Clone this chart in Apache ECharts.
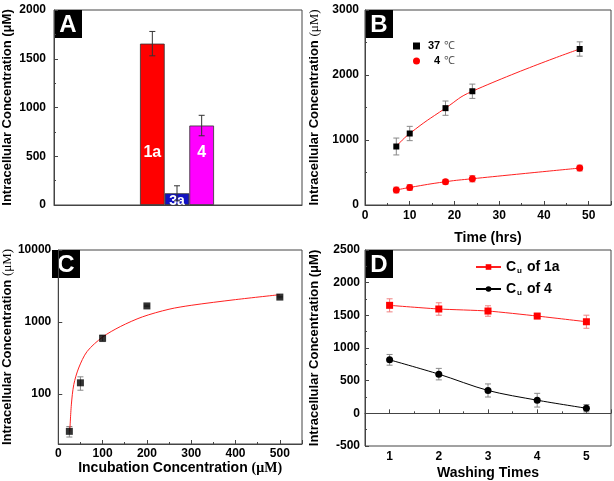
<!DOCTYPE html>
<html><head><meta charset="utf-8">
<script src="https://cdn.jsdelivr.net/npm/echarts@6/dist/echarts.min.js"></script>
<style>html,body{margin:0;padding:0;background:#fff}#c{width:614px;height:481px}</style>
</head><body><div id="c"></div>
<script>
// ---- data ----
const aCategories = ['1a', '3a', '4'];
const aValues = [1655, 120, 815];
const aErrors = [125, 77, 105];

const bTimes = [7, 10, 18, 24, 48];
const b37 = [900, 1100, 1490, 1750, 2400];
const b37Err = [130, 110, 110, 110, 110];
const b4 = [230, 270, 358, 404, 568];
const b4Err = [45, 45, 35, 50, 45];

const cIncub = [25, 50, 100, 200, 500];
const cIntra = [30, 142, 592, 1667, 2213];
const cErr = [5, 30, 60, 40, 50];
const cFitX = [26, 29.5, 35, 46, 65, 100, 140, 190, 250, 300, 400, 500];
const cFitY = [30, 70, 134, 228, 387, 615, 860, 1175, 1500, 1700, 2040, 2390];

const dWash = [1, 2, 3, 4, 5];
const d1a = [1653, 1597, 1566, 1489, 1402];
const d1aErr = [100, 95, 80, 40, 100];
const d4 = [819, 600, 350, 201, 78];
const d4Err = [82, 88, 100, 105, 56];

const seriesNames = { b37: '37 ℃', b4: '4 ℃', d1a: 'Cu of 1a', d4: 'Cu of 4' };
const panelLetters = ['A', 'B', 'C', 'D'];

// ---- styles ----
const F = 'Liberation Sans, Arial, sans-serif';
const SERIF = 'Liberation Serif, Times New Roman, serif';
const aColors = ['#ff0000', '#1212c4', '#ff00ff'];
const aLabelDist = [44, -3, 44];
const aLabelSize = [16, 14, 16];
const AX = '#444';

const zip = (xs, ys, es) => xs.map((x, i) => es ? [x, ys[i], es[i]] : [x, ys[i]]);

function errorBar(color, cap) {
  return function (params, api) {
    const x = api.value(0), y = api.value(1), e = api.value(2);
    const hi = api.coord([x, y + e]);
    const lo = api.coord([x, y - e]);
    const style = { stroke: color, lineWidth: 1 };
    return {
      type: 'group', children: [
        { type: 'line', shape: { x1: hi[0], y1: hi[1], x2: lo[0], y2: lo[1] }, style },
        { type: 'line', shape: { x1: hi[0] - cap, y1: hi[1], x2: hi[0] + cap, y2: hi[1] }, style },
        { type: 'line', shape: { x1: lo[0] - cap, y1: lo[1], x2: lo[0] + cap, y2: lo[1] }, style }
      ]
    };
  };
}

const plain = v => String(v);
const tickLabel = { color: '#000', fontFamily: F, fontWeight: 'bold', fontSize: 12, formatter: plain };
function valAxis(extra) {
  return Object.assign({
    type: 'value',
    axisLine: { show: true, lineStyle: { color: AX, width: 1 } },
    axisTick: { show: true, inside: true, length: 4, lineStyle: { color: AX } },
    minorTick: { show: true, splitNumber: 2, length: 2, lineStyle: { color: AX } },
    splitLine: { show: false },
    minorSplitLine: { show: false },
    axisLabel: Object.assign({}, tickLabel, { margin: 6 })
  }, extra);
}
const yNameBold = { fontFamily: F, fontWeight: 'bold', fontSize: 13, color: '#000' };
const yNameRich = {
  fontFamily: F, fontWeight: 'bold', fontSize: 13, color: '#000',
  rich: {
    a: { fontFamily: F, fontWeight: 'bold', fontSize: 13, color: '#000' },
    b: { fontFamily: SERIF, fontWeight: 'normal', fontSize: 13, color: '#000' }
  }
};
const xName = { fontFamily: F, fontWeight: 'bold', fontSize: 14, color: '#000' };

const grids = [
  { left: 54, top: 10, width: 248, height: 195 },
  { left: 140, top: 10, width: 74, height: 195 },
  { left: 365, top: 10, width: 246, height: 195 },
  { left: 52, top: 250, width: 250, height: 194 },
  { left: 365, top: 250, width: 246, height: 196 }
].map((g, i) => Object.assign(g, i === 1 ? { show: false } : { show: true, borderColor: AX, borderWidth: 1 }));

const letterBoxes = [[54, 10], [365, 10], [52, 250], [365, 250]];

const option = {
  animation: false,
  backgroundColor: '#fff',
  grid: grids,
  xAxis: [
    { type: 'value', gridIndex: 0, min: 0, max: 1, axisLabel: { show: false }, axisTick: { show: false }, splitLine: { show: false }, axisLine: { lineStyle: { color: AX } } },
    { type: 'category', gridIndex: 1, data: aCategories, show: false },
    valAxis({ gridIndex: 2, min: 0, max: 55, interval: 10, axisLabel: Object.assign({}, tickLabel, { margin: 5, showMaxLabel: false }),
      name: 'Time (hrs)', nameLocation: 'middle', nameGap: 26, nameTextStyle: xName }),
    valAxis({ gridIndex: 3, min: 0, max: 550, interval: 100, axisLabel: Object.assign({}, tickLabel, { margin: 4, showMaxLabel: false }),
      name: '{a|Incubation Concentration }{b|(μM)}', nameLocation: 'middle', nameGap: 17,
      nameTextStyle: Object.assign({}, xName, { rich: { a: xName, b: { fontFamily: SERIF, fontSize: 14, color: '#000' } } }) }),
    valAxis({ gridIndex: 4, min: 0.5, max: 5.5, axisLabel: Object.assign({}, tickLabel, { margin: 5, showMinLabel: false, showMaxLabel: false }),
      name: 'Washing Times', nameLocation: 'middle', nameGap: 20, nameTextStyle: xName })
  ],
  yAxis: [
    valAxis({ gridIndex: 0, min: 0, max: 2000, interval: 500, axisLabel: Object.assign({}, tickLabel, { margin: 8 }),
      name: 'Intracellular Concentration (μM)', nameLocation: 'middle', nameGap: 40, nameTextStyle: yNameBold }),
    { type: 'value', gridIndex: 1, min: 0, max: 2000, show: false, splitLine: { show: false } },
    valAxis({ gridIndex: 2, min: 0, max: 3000, interval: 1000,
      name: '{a|Intracellular Concentration }{b|(μM)}', nameLocation: 'middle', nameGap: 44, nameTextStyle: yNameRich }),
    valAxis({ gridIndex: 3, type: 'log', logBase: 10, min: 20, max: 10000, minorTick: { show: false },
      axisLabel: Object.assign({}, tickLabel, { margin: 7, formatter: v => { const l = Math.log10(v); return Math.abs(l - Math.round(l)) < 1e-6 ? String(Math.round(v)) : ''; } }),
      name: '{a|Intracellular Concentration }{b|(μM)}', nameLocation: 'middle', nameGap: 39, nameTextStyle: yNameRich }),
    valAxis({ gridIndex: 4, min: -500, max: 2500, interval: 500, axisLabel: Object.assign({}, tickLabel, { margin: 5 }),
      name: 'Intracellular Concentration (μM)', nameLocation: 'middle', nameGap: 44, nameTextStyle: yNameBold })
  ],
  legend: [
    {
      left: 408, top: 35, orient: 'vertical', itemGap: 3, itemWidth: 7, itemHeight: 7,
      data: [{ name: seriesNames.b37, icon: 'rect' }, { name: seriesNames.b4, icon: 'circle' }],
      formatter: name => { const p = name.split(' '); return '{n|' + (p[0].length < 2 ? '\u2007' : '') + p[0] + '} {u|' + p[1] + '}'; },
      textStyle: { padding: [0, 0, 0, 3], rich: {
        n: { fontFamily: F, fontWeight: 'bold', fontSize: 11, color: '#000' },
        u: { fontFamily: F, fontSize: 11, color: '#555' } } }
    },
    {
      left: 470, top: 255, orient: 'vertical', itemGap: 7, itemWidth: 25, itemHeight: 7,
      data: [seriesNames.d1a, seriesNames.d4],
      formatter: name => '{m|C}{s|u}{m|' + name.slice(2) + '}',
      textStyle: { rich: {
        m: { fontFamily: F, fontWeight: 'bold', fontSize: 14, color: '#000' },
        s: { fontFamily: F, fontWeight: 'bold', fontSize: 8, color: '#000', padding: [8, 1, 0, 1] } } }
    }
  ],
  graphic: letterBoxes.map((p, i) => ({
    type: 'group', left: p[0], top: p[1], z: 100,
    children: [
      { type: 'rect', shape: { x: 0, y: 0, width: 28, height: 28 }, style: { fill: '#000' } },
      { type: 'text', x: 14, y: 15, style: { text: panelLetters[i], fill: '#fff', font: 'bold 24px ' + F, textAlign: 'center', textVerticalAlign: 'middle' } }
    ]
  })),
  series: [
    // Panel A
    {
      type: 'bar', xAxisIndex: 1, yAxisIndex: 1, barCategoryGap: '0%',
      data: aValues.map((v, i) => ({ value: v, itemStyle: { color: aColors[i] }, label: { distance: aLabelDist[i], fontSize: aLabelSize[i] } })),
      itemStyle: { borderColor: '#333', borderWidth: 0.8 },
      label: { show: true, position: 'insideBottom', formatter: '{b}', color: '#fff', fontFamily: F, fontWeight: 'bold', fontSize: 16 }
    },
    { type: 'custom', xAxisIndex: 1, yAxisIndex: 1, z: 5, renderItem: errorBar('#333', 3), encode: { x: 0, y: 1 },
      data: aCategories.map((c, i) => [i, aValues[i], aErrors[i]]) },
    // Panel B
    { type: 'custom', xAxisIndex: 2, yAxisIndex: 2, renderItem: errorBar('#888', 3), encode: { x: 0, y: 1 }, data: zip(bTimes, b37, b37Err) },
    { type: 'custom', xAxisIndex: 2, yAxisIndex: 2, renderItem: errorBar('#f08080', 3), encode: { x: 0, y: 1 }, data: zip(bTimes, b4, b4Err) },
    { name: seriesNames.b37, type: 'line', xAxisIndex: 2, yAxisIndex: 2, smooth: 0.5, z: 6,
      symbol: 'rect', symbolSize: 6, itemStyle: { color: '#000' }, lineStyle: { color: '#ff2020', width: 1 }, data: zip(bTimes, b37) },
    { name: seriesNames.b4, type: 'line', xAxisIndex: 2, yAxisIndex: 2, smooth: 0.5, z: 6,
      symbol: 'circle', symbolSize: 7, itemStyle: { color: '#ff0000' }, lineStyle: { color: '#ff2020', width: 1 }, data: zip(bTimes, b4) },
    // Panel C
    { type: 'custom', xAxisIndex: 3, yAxisIndex: 3, renderItem: errorBar('#888', 3), encode: { x: 0, y: 1 }, data: zip(cIncub, cIntra, cErr) },
    { type: 'line', xAxisIndex: 3, yAxisIndex: 3, smooth: 0.3, showSymbol: false, symbol: 'none',
      lineStyle: { color: '#ff2020', width: 1 }, data: zip(cFitX, cFitY) },
    { type: 'scatter', xAxisIndex: 3, yAxisIndex: 3, symbol: 'rect', symbolSize: 7, itemStyle: { color: '#000' }, z: 6, data: zip(cIncub, cIntra) },
    // Panel D
    { type: 'custom', xAxisIndex: 4, yAxisIndex: 4, renderItem: errorBar('#f08080', 3), encode: { x: 0, y: 1 }, data: zip(dWash, d1a, d1aErr) },
    { type: 'custom', xAxisIndex: 4, yAxisIndex: 4, renderItem: errorBar('#888', 3), encode: { x: 0, y: 1 }, data: zip(dWash, d4, d4Err) },
    { name: seriesNames.d1a, type: 'line', xAxisIndex: 4, yAxisIndex: 4, smooth: 0.2, z: 6,
      symbol: 'rect', symbolSize: 7, itemStyle: { color: '#ff0000' }, lineStyle: { color: '#ff2020', width: 1 }, data: zip(dWash, d1a) },
    { name: seriesNames.d4, type: 'line', xAxisIndex: 4, yAxisIndex: 4, smooth: 0.3, z: 6,
      symbol: 'circle', symbolSize: 7, itemStyle: { color: '#000' }, lineStyle: { color: '#000', width: 1 }, data: zip(dWash, d4) }
  ]
};

const chart = echarts.init(document.getElementById('c'), null, { renderer: 'canvas' });
chart.setOption(option);
</script>
</body></html>
